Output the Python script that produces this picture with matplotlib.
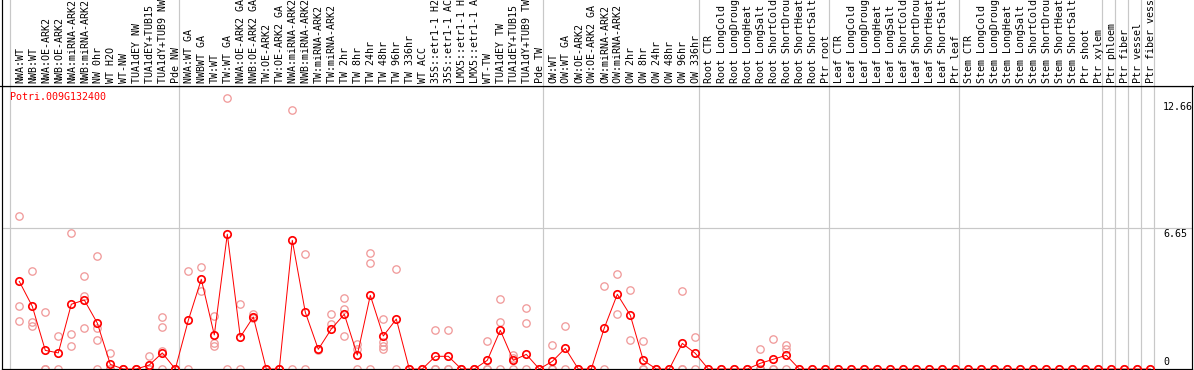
import matplotlib
matplotlib.use("Agg")
import matplotlib.pyplot as plt
from matplotlib.lines import Line2D

# ---------------- data ----------------
gene = "Potri.009G132400"

conds = ["CTR", "LongCold", "LongDrought", "LongHeat", "LongSalt",
         "ShortCold", "ShortDrought", "ShortHeat", "ShortSalt"]

labels = (
    ["NWA:WT", "NWB:WT", "NWA:OE-ARK2", "NWB:OE-ARK2", "NWA:miRNA-ARK2",
     "NWB:miRNA-ARK2", "NW 0hr", "WT H2O", "WT-NW", "TUA1dEY NW",
     "TUA1dEY+TUB15 NW", "TUA1dY+TUB9 NW", "Pde NW"]
    + ["NWA:WT GA", "NWBWT GA", "TW:WT", "TW:WT GA", "NWA:OE-ARK2 GA",
       "NWB:OE-ARK2 GA", "TW:OE-ARK2", "TW:OE-ARK2 GA", "NWA:miRNA-ARK2 GA",
       "NWB:miRNA-ARK2 GA", "TW:miRNA-ARK2", "TW:miRNA-ARK2 GA", "TW 2hr",
       "TW 8hr", "TW 24hr", "TW 48hr", "TW 96hr", "TW 336hr", "WT ACC",
       "35S::etr1-1 H2O", "35S::etr1-1 ACC", "LMX5::etr1-1 H2O",
       "LMX5::etr1-1 ACC", "WT-TW", "TUA1dEY TW", "TUA1dEY+TUB15 TW",
       "TUA1dY+TUB9 TW", "Pde TW"]
    + ["OW:WT", "OW:WT GA", "OW:OE-ARK2", "OW:OE-ARK2 GA", "OW:miRNA-ARK2",
       "OW:miRNA-ARK2 GA", "OW 2hr", "OW 8hr", "OW 24hr", "OW 48hr",
       "OW 96hr", "OW 336hr"]
    + ["Root " + c for c in conds] + ["Ptr root"]
    + ["Leaf " + c for c in conds] + ["Ptr leaf"]
    + ["Stem " + c for c in conds] + ["Ptr shoot", "Ptr xylem"]
    + ["Ptr phloem", "Ptr fiber", "Ptr vessel", "Ptr fiber vessel"]
)

means = [4.14, 2.96, 0.88, 0.76, 3.06, 3.26, 2.17, 0.22, 0, 0,
         0.19, 0.76, 0,
         2.30, 4.24, 1.61, 6.37, 1.51, 2.46, 0, 0, 6.08, 2.68,
         0.93, 1.89, 2.59, 0.66, 3.48, 1.56, 2.36, 0, 0, 0.60,
         0.60, 0, 0, 0.41, 1.83, 0.41, 0.69, 0,
         0.36, 0.98, 0, 0, 1.94, 3.53, 2.54, 0.41, 0, 0, 1.21, 0.74,
         0, 0, 0, 0, 0.27, 0.46, 0.65, 0, 0, 0,
         0, 0, 0, 0, 0, 0, 0, 0, 0, 0,
         0, 0, 0, 0, 0, 0, 0, 0, 0, 0, 0,
         0, 0, 0, 0]

replicates = [
    [7.25, 2.96, 2.27], [4.63, 2.21, 2.05], [2.68, 0, 0], [1.55, 0],
    [6.43, 1.64, 1.07], [4.39, 3.45, 1.92], [5.34, 1.92, 1.35, 0],
    [0.74, 0, 0], [0, 0], [0, 0], [0.60, 0, 0], [2.46, 1.97, 0.84, 0],
    [0, 0],
    [4.63, 0], [4.83, 3.68], [2.49, 1.21, 1.10], [12.79, 0], [3.06, 0],
    [2.60, 2.41], [0, 0], [0, 0], [12.23, 0], [5.44, 0], [0.96, 0.90],
    [2.59, 2.12], [3.34, 2.82, 1.55], [1.20, 0.95, 0], [5.47, 5.01, 0],
    [2.36, 1.27, 1.09, 0.94], [4.71, 0], [0, 0], [0, 0], [1.84, 0, 0],
    [1.84, 0, 0], [0, 0], [0, 0], [1.31, 0, 0], [3.31, 2.22, 0],
    [0.66, 0.53, 0], [2.88, 2.16, 0], [0, 0],
    [1.12, 0, 0], [2.03, 0], [0, 0], [0, 0], [3.92, 0], [4.50, 2.59],
    [3.74, 1.36], [1.31, 0, 0], [0, 0], [0, 0], [3.69, 0, 0], [1.51, 0],
    [0], [0], [0], [0], [0.95, 0, 0, 0], [1.42, 0, 0], [1.12, 0.96, 0],
    [0], [0], [0],
    [0], [0], [0], [0], [0], [0], [0], [0], [0], [0],
    [0], [0], [0], [0], [0], [0], [0], [0], [0], [0], [0],
    [0], [0], [0], [0],
]

group_starts = [0, 13, 41, 53, 63, 73, 84, 85, 86, 87, 88]
ytick_values = [12.66, 6.65, 0]
ytick_labels = ["12.66", "6.65", "0"]
grid_value = 6.65

# ---------------- layout ----------------
W, H = 1194, 370
fig = plt.figure(figsize=(W / 100, H / 100), dpi=100)
PX = 0.72  # one pixel in points

X0, DX = 19.3, 13.0      # pixel x of first column, column pitch
Y0, DY = 369.0, 21.16    # pixel y of value 0, pixels per unit
left_px, right_px = 2.0, 1191.5
top_px, bottom_px = 86.0, 369.0

xlim = ((left_px - X0) / DX, (right_px - X0) / DX)
ylim = ((Y0 - bottom_px) / DY, (Y0 - top_px) / DY)

ax = fig.add_axes([left_px / W, 1 - bottom_px / H,
                   (right_px - left_px) / W, (bottom_px - top_px) / H])
ax.set_xlim(*xlim)
ax.set_ylim(*ylim)
ax.set_xticks([])
ax.set_yticks([])
for s in ax.spines.values():
    s.set_color("black")
    s.set_linewidth(1.2 * PX)

hax = fig.add_axes([left_px / W, 1 - top_px / H,
                    (right_px - left_px) / W, top_px / H])
hax.set_xlim(*xlim)
hax.set_ylim(0, 1)
hax.set_xticks([])
hax.set_yticks([])
for name, s in hax.spines.items():
    s.set_visible(name == "left")
    s.set_color("black")
    s.set_linewidth(1.2 * PX)

# header separator line across full width
fig.add_artist(Line2D([0, 1], [1 - top_px / H] * 2, color="black",
                      lw=1.2 * PX, transform=fig.transFigure))

grid_col = "#c8c8c8"
off = -9.3 / DX
for k in group_starts:
    ax.axvline(k + off, color=grid_col, lw=1.2 * PX, zorder=0)
    hax.axvline(k + off, color=grid_col, lw=1.2 * PX, zorder=0)
ax.axhline(grid_value, color=grid_col, lw=1.2 * PX, zorder=0)

mono = "DejaVu Sans Mono"
fs = 7.2
lab_y = (top_px - 83.0) / top_px
for i, lab in enumerate(labels):
    hax.text(i + 0.05, lab_y, lab, rotation=90, ha="center", va="bottom",
             fontsize=fs, family=mono, color="black", clip_on=True)

ms = 7.4 * PX

rx, ry = [], []
for i, reps in enumerate(replicates):
    for r in reps:
        rx.append(i)
        ry.append(r)
ax.plot(rx, ry, linestyle="none", marker="o", ms=ms, mfc="none",
        mec="#f09a9a", mew=1.3 * PX, zorder=2)

ax.plot(range(len(means)), means, color="#ff0000", lw=1.0 * PX,
        marker="o", ms=ms, mfc="none", mec="#ff0000", mew=1.7 * PX, zorder=3)

ax.text((10 - X0) / DX, (Y0 - 97) / DY, gene, color="#ff0000",
        fontsize=fs, family=mono, ha="left", va="center", zorder=4)

lab_x = (1163 - X0) / DX
for v, t in zip(ytick_values, ytick_labels):
    if v == 0:
        ax.text(lab_x, v + 2.0 / DY, t, ha="left", va="bottom",
                fontsize=fs, family=mono, clip_on=False)
    else:
        ax.text(lab_x, v - 1.0 / DY, t, ha="left", va="top",
                fontsize=fs, family=mono, clip_on=False)

fig.savefig("out.png", dpi=100)
